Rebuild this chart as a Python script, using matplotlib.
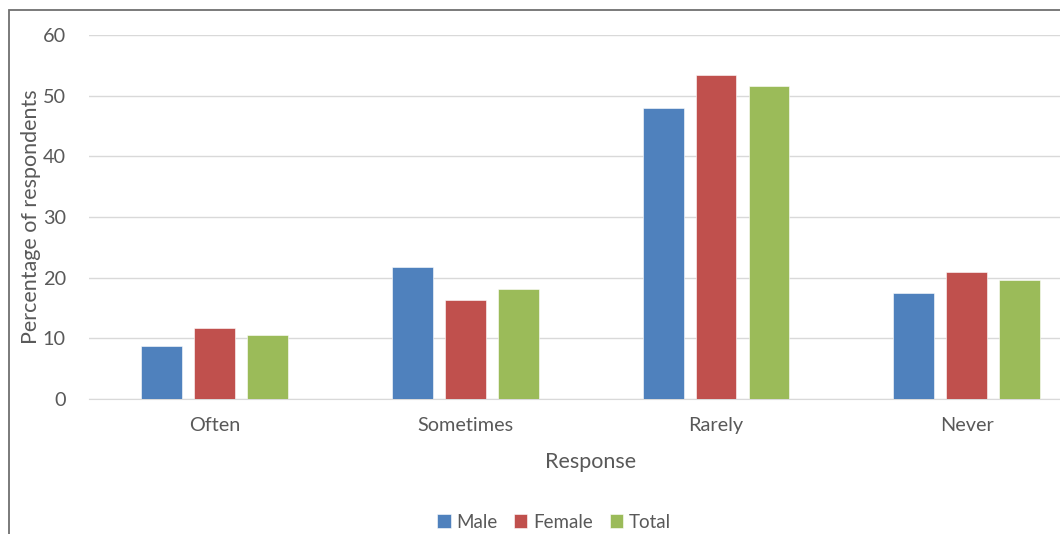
import numpy as np
import matplotlib.pyplot as plt
from matplotlib.patches import Rectangle

plt.rcParams['font.family'] = ['Lato', 'DejaVu Sans']

responses = ["Often", "Sometimes", "Rarely", "Never"]
male = [8.7, 21.8, 48.0, 17.4]
female = [11.7, 16.3, 53.4, 20.9]
total = [10.5, 18.1, 51.6, 19.6]

series = [("Male", male, "#4f81bd"), ("Female", female, "#c0504d"), ("Total", total, "#9bbb59")]

fig = plt.figure(figsize=(10.6, 5.34), dpi=100)
# outer chart frame
fig.patches.append(Rectangle((9 / 1060, -0.1), 1.2, (534 - 10) / 534 + 0.1,
                             transform=fig.transFigure, fill=False,
                             edgecolor="#707070", linewidth=1.3))

ax = fig.add_axes([0.0844, 0.2528, 0.9458, 0.6816])
x = np.arange(len(responses))
width = 0.163
step = 0.211
for i, (name, vals, color) in enumerate(series):
    ax.bar(x + (i - 1) * step, vals, width, color=color, label=name,
           edgecolor="white", linewidth=0.4, zorder=3)

ax.set_xlim(-0.5, len(responses) - 0.5)
ax.set_ylim(0, 60)
ax.set_yticks(range(0, 61, 10))
ax.set_xticks(x)
ax.set_xticklabels(responses)
ax.grid(axis="y", color="#d9d9d9", linewidth=1, zorder=0)
for s in ["top", "right", "left"]:
    ax.spines[s].set_visible(False)
ax.spines["bottom"].set_color("#d9d9d9")
ax.tick_params(axis="both", length=0, labelsize=14.3, labelcolor="#595959")
ax.tick_params(axis="y", pad=17)
ax.tick_params(axis="x", pad=13)

ax.set_xlabel("Response", fontsize=15.5, color="#595959", labelpad=13)
ax.set_ylabel("Percentage of respondents", fontsize=15.5, color="#595959", labelpad=1)

fig.legend(loc="center", bbox_to_anchor=(554 / 1060, 1 - 522 / 534), ncol=3,
           frameon=False, fontsize=13.5, labelcolor="#595959",
           handlelength=0.7, handleheight=0.7, handletextpad=0.3, columnspacing=0.9)

fig.savefig("out.png", dpi=100)
